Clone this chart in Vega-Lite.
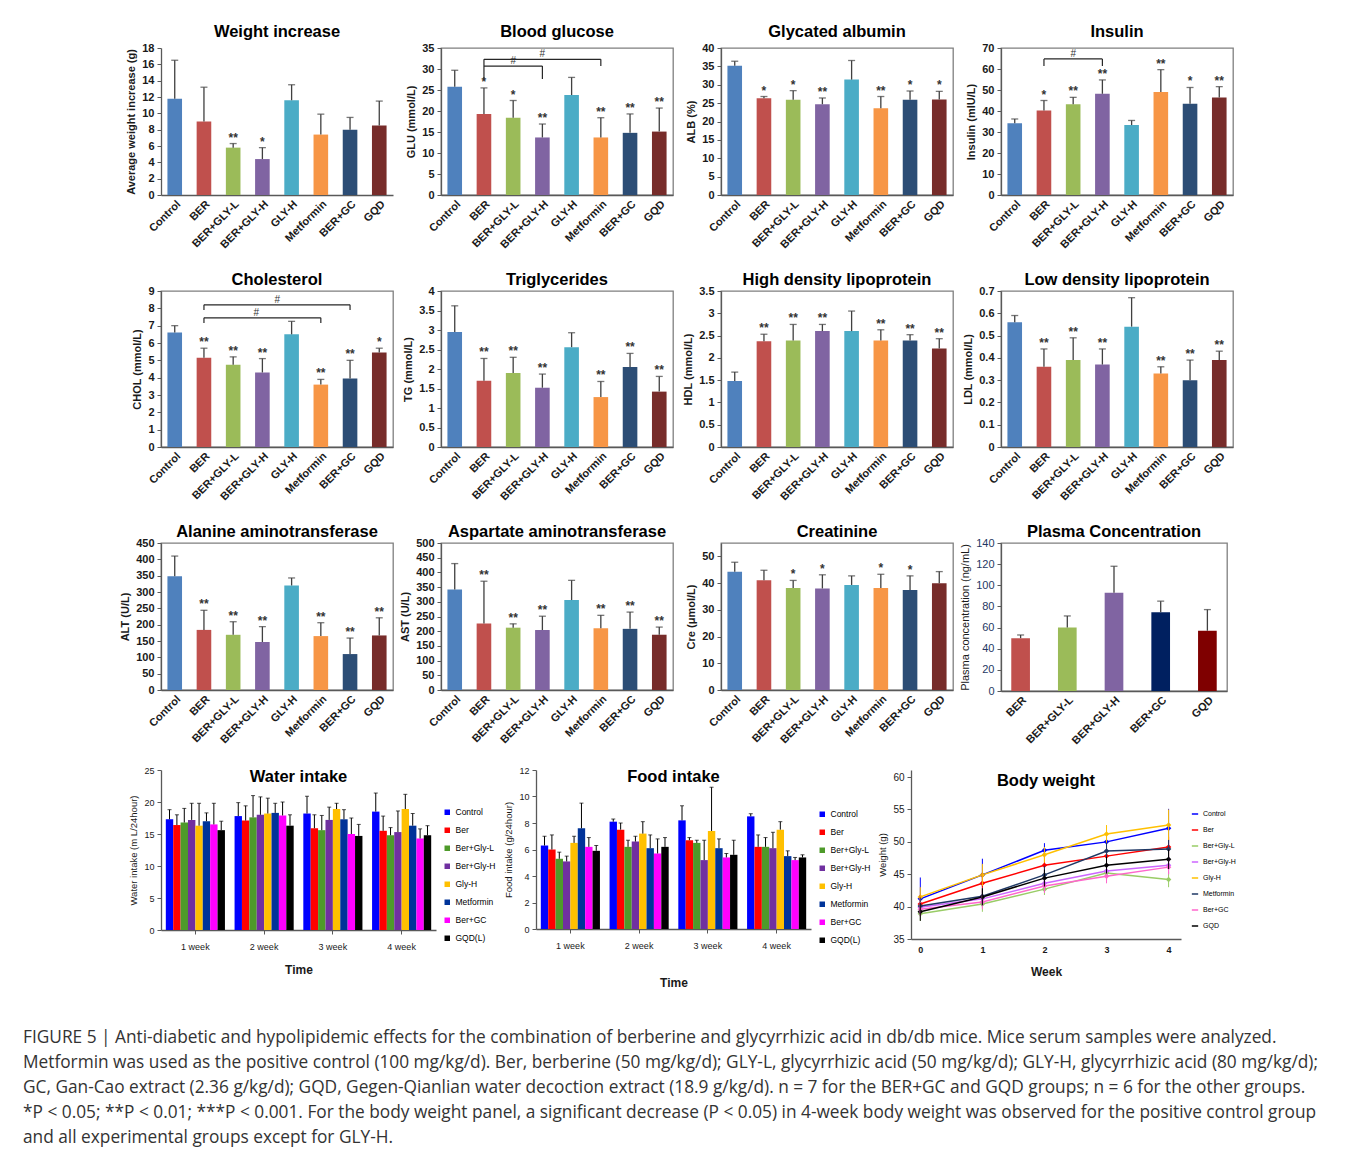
{
  "$schema": "https://vega.github.io/schema/vega-lite/v6.json",
  "background": "white",
  "padding": {"left": 22, "top": 22, "right": 0, "bottom": 0},
  "title": {
    "text": [
      "FIGURE 5 | Anti-diabetic and hypolipidemic effects for the combination of berberine and glycyrrhizic acid in db/db mice. Mice serum samples were analyzed.",
      "Metformin was used as the positive control (100 mg/kg/d). Ber, berberine (50 mg/kg/d); GLY-L, glycyrrhizic acid (50 mg/kg/d); GLY-H, glycyrrhizic acid (80 mg/kg/d);",
      "GC, Gan-Cao extract (2.36 g/kg/d); GQD, Gegen-Qianlian water decoction extract (18.9 g/kg/d). n = 7 for the BER+GC and GQD groups; n = 6 for the other groups.",
      "*P < 0.05; **P < 0.01; ***P < 0.001. For the body weight panel, a significant decrease (P < 0.05) in 4-week body weight was observed for the positive control group",
      "and all experimental groups except for GLY-H."
    ],
    "orient": "bottom", "anchor": "start", "frame": "bounds", "offset": 41, "dx": -96,
    "fontSize": 17.3, "fontWeight": "normal", "font": "Open Sans", "color": "#333333", "lineHeight": 25, "align": "left"
  },
  "datasets": {
    "wt": [
      {"group": "Control", "mean": 11.8, "upper": 16.5, "sig": ""},
      {"group": "BER", "mean": 9.0, "upper": 13.2, "sig": ""},
      {"group": "BER+GLY-L", "mean": 5.8, "upper": 6.3, "sig": "**"},
      {"group": "BER+GLY-H", "mean": 4.4, "upper": 5.8, "sig": "*"},
      {"group": "GLY-H", "mean": 11.6, "upper": 13.5, "sig": ""},
      {"group": "Metformin", "mean": 7.4, "upper": 9.9, "sig": ""},
      {"group": "BER+GC", "mean": 8.0, "upper": 9.5, "sig": ""},
      {"group": "GQD", "mean": 8.5, "upper": 11.5, "sig": ""}
    ],
    "glu": [
      {"group": "Control", "mean": 25.8, "upper": 29.7, "sig": ""},
      {"group": "BER", "mean": 19.3, "upper": 25.5, "sig": "*"},
      {"group": "BER+GLY-L", "mean": 18.4, "upper": 22.5, "sig": "*"},
      {"group": "BER+GLY-H", "mean": 13.7, "upper": 16.9, "sig": "**"},
      {"group": "GLY-H", "mean": 23.8, "upper": 28.0, "sig": ""},
      {"group": "Metformin", "mean": 13.7, "upper": 18.4, "sig": "**"},
      {"group": "BER+GC", "mean": 14.8, "upper": 19.3, "sig": "**"},
      {"group": "GQD", "mean": 15.1, "upper": 20.7, "sig": "**"}
    ],
    "glu_br": [
      {"from": "BER", "to": "BER+GLY-H", "mid": "BER+GLY-L", "level": 30.7, "dropL": 27.6, "dropR": 27.6, "label": "#"},
      {"from": "BER", "to": "Metformin", "mid": "BER+GLY-H", "level": 32.3, "dropL": 30.7, "dropR": 30.7, "label": "#"}
    ],
    "alb": [
      {"group": "Control", "mean": 35.2, "upper": 36.4, "sig": ""},
      {"group": "BER", "mean": 26.3, "upper": 26.8, "sig": "*"},
      {"group": "BER+GLY-L", "mean": 25.9, "upper": 28.4, "sig": "*"},
      {"group": "BER+GLY-H", "mean": 24.7, "upper": 26.4, "sig": "**"},
      {"group": "GLY-H", "mean": 31.4, "upper": 36.6, "sig": ""},
      {"group": "Metformin", "mean": 23.6, "upper": 26.8, "sig": "**"},
      {"group": "BER+GC", "mean": 25.9, "upper": 28.3, "sig": "*"},
      {"group": "GQD", "mean": 26.0, "upper": 28.2, "sig": "*"}
    ],
    "ins": [
      {"group": "Control", "mean": 34.2, "upper": 36.2, "sig": ""},
      {"group": "BER", "mean": 40.2, "upper": 45.0, "sig": "*"},
      {"group": "BER+GLY-L", "mean": 43.2, "upper": 46.5, "sig": "**"},
      {"group": "BER+GLY-H", "mean": 48.2, "upper": 54.8, "sig": "**"},
      {"group": "GLY-H", "mean": 33.3, "upper": 35.5, "sig": ""},
      {"group": "Metformin", "mean": 49.0, "upper": 59.7, "sig": "**"},
      {"group": "BER+GC", "mean": 43.5, "upper": 51.2, "sig": "*"},
      {"group": "GQD", "mean": 46.4, "upper": 51.6, "sig": "**"}
    ],
    "ins_br": [
      {"from": "BER", "to": "BER+GLY-H", "mid": "BER+GLY-L", "level": 64.8, "dropL": 61.4, "dropR": 61.4, "label": "#"}
    ],
    "chol": [
      {"group": "Control", "mean": 6.6, "upper": 7.0, "sig": ""},
      {"group": "BER", "mean": 5.15, "upper": 5.7, "sig": "**"},
      {"group": "BER+GLY-L", "mean": 4.75, "upper": 5.2, "sig": "**"},
      {"group": "BER+GLY-H", "mean": 4.3, "upper": 5.1, "sig": "**"},
      {"group": "GLY-H", "mean": 6.5, "upper": 7.25, "sig": ""},
      {"group": "Metformin", "mean": 3.6, "upper": 3.9, "sig": "**"},
      {"group": "BER+GC", "mean": 3.95, "upper": 5.0, "sig": "**"},
      {"group": "GQD", "mean": 5.45, "upper": 5.7, "sig": "*"}
    ],
    "chol_br": [
      {"from": "BER", "to": "BER+GC", "mid": "BER+GLY-H", "pos": "upper", "level": 8.2, "dropL": 7.9, "dropR": 7.9, "label": "#"},
      {"from": "BER", "to": "Metformin", "mid": "BER+GLY-H", "pos": "lower", "level": 7.45, "dropL": 7.15, "dropR": 7.15, "label": "#"}
    ],
    "tg": [
      {"group": "Control", "mean": 2.95, "upper": 3.62, "sig": ""},
      {"group": "BER", "mean": 1.7, "upper": 2.27, "sig": "**"},
      {"group": "BER+GLY-L", "mean": 1.9, "upper": 2.3, "sig": "**"},
      {"group": "BER+GLY-H", "mean": 1.52, "upper": 1.87, "sig": "**"},
      {"group": "GLY-H", "mean": 2.56, "upper": 2.93, "sig": ""},
      {"group": "Metformin", "mean": 1.28, "upper": 1.68, "sig": "**"},
      {"group": "BER+GC", "mean": 2.05, "upper": 2.4, "sig": "**"},
      {"group": "GQD", "mean": 1.42, "upper": 1.81, "sig": "**"}
    ],
    "hdl": [
      {"group": "Control", "mean": 1.48, "upper": 1.68, "sig": ""},
      {"group": "BER", "mean": 2.37, "upper": 2.53, "sig": "**"},
      {"group": "BER+GLY-L", "mean": 2.39, "upper": 2.75, "sig": "**"},
      {"group": "BER+GLY-H", "mean": 2.6, "upper": 2.75, "sig": "**"},
      {"group": "GLY-H", "mean": 2.6, "upper": 3.05, "sig": ""},
      {"group": "Metformin", "mean": 2.39, "upper": 2.63, "sig": "**"},
      {"group": "BER+GC", "mean": 2.39, "upper": 2.52, "sig": "**"},
      {"group": "GQD", "mean": 2.21, "upper": 2.43, "sig": "**"}
    ],
    "ldl": [
      {"group": "Control", "mean": 0.56, "upper": 0.59, "sig": ""},
      {"group": "BER", "mean": 0.36, "upper": 0.44, "sig": "**"},
      {"group": "BER+GLY-L", "mean": 0.39, "upper": 0.49, "sig": "**"},
      {"group": "BER+GLY-H", "mean": 0.37, "upper": 0.44, "sig": "**"},
      {"group": "GLY-H", "mean": 0.54, "upper": 0.67, "sig": ""},
      {"group": "Metformin", "mean": 0.33, "upper": 0.36, "sig": "**"},
      {"group": "BER+GC", "mean": 0.30, "upper": 0.39, "sig": "**"},
      {"group": "GQD", "mean": 0.39, "upper": 0.43, "sig": "**"}
    ],
    "alt": [
      {"group": "Control", "mean": 348, "upper": 410, "sig": ""},
      {"group": "BER", "mean": 184, "upper": 244, "sig": "**"},
      {"group": "BER+GLY-L", "mean": 169, "upper": 209, "sig": "**"},
      {"group": "BER+GLY-H", "mean": 147, "upper": 194, "sig": "**"},
      {"group": "GLY-H", "mean": 320, "upper": 343, "sig": ""},
      {"group": "Metformin", "mean": 165, "upper": 206, "sig": "**"},
      {"group": "BER+GC", "mean": 110, "upper": 159, "sig": "**"},
      {"group": "GQD", "mean": 167, "upper": 221, "sig": "**"}
    ],
    "ast": [
      {"group": "Control", "mean": 342, "upper": 430, "sig": ""},
      {"group": "BER", "mean": 226, "upper": 370, "sig": "**"},
      {"group": "BER+GLY-L", "mean": 212, "upper": 225, "sig": "**"},
      {"group": "BER+GLY-H", "mean": 204, "upper": 251, "sig": "**"},
      {"group": "GLY-H", "mean": 306, "upper": 373, "sig": ""},
      {"group": "Metformin", "mean": 210, "upper": 254, "sig": "**"},
      {"group": "BER+GC", "mean": 208, "upper": 265, "sig": "**"},
      {"group": "GQD", "mean": 188, "upper": 214, "sig": "**"}
    ],
    "cre": [
      {"group": "Control", "mean": 44.2, "upper": 47.8, "sig": ""},
      {"group": "BER", "mean": 41.1, "upper": 44.8, "sig": ""},
      {"group": "BER+GLY-L", "mean": 38.2, "upper": 41.0, "sig": "*"},
      {"group": "BER+GLY-H", "mean": 38.0, "upper": 43.1, "sig": "*"},
      {"group": "GLY-H", "mean": 39.3, "upper": 42.7, "sig": ""},
      {"group": "Metformin", "mean": 38.2, "upper": 43.3, "sig": "*"},
      {"group": "BER+GC", "mean": 37.4, "upper": 42.7, "sig": "*"},
      {"group": "GQD", "mean": 39.9, "upper": 44.3, "sig": ""}
    ],
    "plasma": [
      {"group": "BER", "mean": 50, "upper": 53},
      {"group": "BER+GLY-L", "mean": 60, "upper": 71},
      {"group": "BER+GLY-H", "mean": 93, "upper": 118},
      {"group": "BER+GC", "mean": 74.5, "upper": 85},
      {"group": "GQD", "mean": 57, "upper": 77}
    ],
    "water": [
      {"week": "1 week", "series": "Control", "mean": 17.3, "upper": 18.8},
      {"week": "1 week", "series": "Ber", "mean": 16.4, "upper": 18.0},
      {"week": "1 week", "series": "Ber+Gly-L", "mean": 16.8, "upper": 19.0},
      {"week": "1 week", "series": "Ber+Gly-H", "mean": 17.2, "upper": 19.8},
      {"week": "1 week", "series": "Gly-H", "mean": 16.3, "upper": 19.8},
      {"week": "1 week", "series": "Metformin", "mean": 17.0, "upper": 18.3},
      {"week": "1 week", "series": "Ber+GC", "mean": 16.5, "upper": 19.8},
      {"week": "1 week", "series": "GQD(L)", "mean": 15.6, "upper": 17.0},
      {"week": "2 week", "series": "Control", "mean": 17.8, "upper": 19.9},
      {"week": "2 week", "series": "Ber", "mean": 17.1, "upper": 19.4},
      {"week": "2 week", "series": "Ber+Gly-L", "mean": 17.6, "upper": 21.0},
      {"week": "2 week", "series": "Ber+Gly-H", "mean": 18.0, "upper": 20.8},
      {"week": "2 week", "series": "Gly-H", "mean": 18.2, "upper": 20.6},
      {"week": "2 week", "series": "Metformin", "mean": 18.3, "upper": 19.8},
      {"week": "2 week", "series": "Ber+GC", "mean": 17.9, "upper": 20.0},
      {"week": "2 week", "series": "GQD(L)", "mean": 16.3, "upper": 18.0},
      {"week": "3 week", "series": "Control", "mean": 18.2, "upper": 20.9},
      {"week": "3 week", "series": "Ber", "mean": 15.9, "upper": 18.0},
      {"week": "3 week", "series": "Ber+Gly-L", "mean": 15.6, "upper": 17.9},
      {"week": "3 week", "series": "Ber+Gly-H", "mean": 17.2, "upper": 19.2},
      {"week": "3 week", "series": "Gly-H", "mean": 18.9, "upper": 19.8},
      {"week": "3 week", "series": "Metformin", "mean": 17.3, "upper": 18.8},
      {"week": "3 week", "series": "Ber+GC", "mean": 15.0, "upper": 17.5},
      {"week": "3 week", "series": "GQD(L)", "mean": 14.7, "upper": 16.5},
      {"week": "4 week", "series": "Control", "mean": 18.5, "upper": 21.4},
      {"week": "4 week", "series": "Ber", "mean": 15.5, "upper": 17.8},
      {"week": "4 week", "series": "Ber+Gly-L", "mean": 14.8, "upper": 16.0},
      {"week": "4 week", "series": "Ber+Gly-H", "mean": 15.3, "upper": 18.6},
      {"week": "4 week", "series": "Gly-H", "mean": 18.9, "upper": 21.2},
      {"week": "4 week", "series": "Metformin", "mean": 16.3, "upper": 18.2},
      {"week": "4 week", "series": "Ber+GC", "mean": 14.3, "upper": 15.8},
      {"week": "4 week", "series": "GQD(L)", "mean": 14.8, "upper": 16.3}
    ],
    "food": [
      {"week": "1 week", "series": "Control", "mean": 6.3, "upper": 7.0},
      {"week": "1 week", "series": "Ber", "mean": 6.0, "upper": 7.1},
      {"week": "1 week", "series": "Ber+Gly-L", "mean": 5.3, "upper": 5.8},
      {"week": "1 week", "series": "Ber+Gly-H", "mean": 5.1, "upper": 5.5},
      {"week": "1 week", "series": "Gly-H", "mean": 6.5, "upper": 7.0},
      {"week": "1 week", "series": "Metformin", "mean": 7.6, "upper": 9.5},
      {"week": "1 week", "series": "Ber+GC", "mean": 6.2, "upper": 6.9},
      {"week": "1 week", "series": "GQD(L)", "mean": 5.9, "upper": 6.3},
      {"week": "2 week", "series": "Control", "mean": 8.1, "upper": 8.3},
      {"week": "2 week", "series": "Ber", "mean": 7.5, "upper": 8.0},
      {"week": "2 week", "series": "Ber+Gly-L", "mean": 6.2, "upper": 6.7},
      {"week": "2 week", "series": "Ber+Gly-H", "mean": 6.6, "upper": 7.0},
      {"week": "2 week", "series": "Gly-H", "mean": 7.2, "upper": 8.1},
      {"week": "2 week", "series": "Metformin", "mean": 6.1, "upper": 7.1},
      {"week": "2 week", "series": "Ber+GC", "mean": 5.7, "upper": 6.8},
      {"week": "2 week", "series": "GQD(L)", "mean": 6.2, "upper": 6.9},
      {"week": "3 week", "series": "Control", "mean": 8.2, "upper": 9.3},
      {"week": "3 week", "series": "Ber", "mean": 6.7, "upper": 6.9},
      {"week": "3 week", "series": "Ber+Gly-L", "mean": 6.5, "upper": 6.7},
      {"week": "3 week", "series": "Ber+Gly-H", "mean": 5.2, "upper": 6.7},
      {"week": "3 week", "series": "Gly-H", "mean": 7.4, "upper": 10.7},
      {"week": "3 week", "series": "Metformin", "mean": 6.1, "upper": 6.8},
      {"week": "3 week", "series": "Ber+GC", "mean": 5.4, "upper": 5.7},
      {"week": "3 week", "series": "GQD(L)", "mean": 5.6, "upper": 6.7},
      {"week": "4 week", "series": "Control", "mean": 8.5, "upper": 8.7},
      {"week": "4 week", "series": "Ber", "mean": 6.2, "upper": 7.1},
      {"week": "4 week", "series": "Ber+Gly-L", "mean": 6.2, "upper": 6.9},
      {"week": "4 week", "series": "Ber+Gly-H", "mean": 6.1, "upper": 7.3},
      {"week": "4 week", "series": "Gly-H", "mean": 7.5, "upper": 8.1},
      {"week": "4 week", "series": "Metformin", "mean": 5.5, "upper": 5.9},
      {"week": "4 week", "series": "Ber+GC", "mean": 5.2, "upper": 5.4},
      {"week": "4 week", "series": "GQD(L)", "mean": 5.4, "upper": 5.6}
    ],
    "body": [
      {"series": "Control", "week": 0, "mean": 41.2, "lo": 39.8, "hi": 44.5},
      {"series": "Control", "week": 1, "mean": 44.9, "lo": 43.0, "hi": 47.4},
      {"series": "Control", "week": 2, "mean": 48.7, "lo": 47.6, "hi": 49.8},
      {"series": "Control", "week": 3, "mean": 50.0, "lo": 48.5, "hi": 51.5},
      {"series": "Control", "week": 4, "mean": 52.1, "lo": 49.3, "hi": 55.1},
      {"series": "Ber", "week": 0, "mean": 40.4, "lo": 39.0, "hi": 41.8},
      {"series": "Ber", "week": 1, "mean": 43.6, "lo": 42.0, "hi": 45.2},
      {"series": "Ber", "week": 2, "mean": 46.4, "lo": 45.0, "hi": 47.8},
      {"series": "Ber", "week": 3, "mean": 47.8, "lo": 46.3, "hi": 49.3},
      {"series": "Ber", "week": 4, "mean": 49.2, "lo": 47.6, "hi": 50.8},
      {"series": "Ber+Gly-L", "week": 0, "mean": 38.9, "lo": 37.8, "hi": 40.0},
      {"series": "Ber+Gly-L", "week": 1, "mean": 40.4, "lo": 39.2, "hi": 41.6},
      {"series": "Ber+Gly-L", "week": 2, "mean": 42.7, "lo": 41.8, "hi": 43.6},
      {"series": "Ber+Gly-L", "week": 3, "mean": 45.2, "lo": 44.2, "hi": 46.2},
      {"series": "Ber+Gly-L", "week": 4, "mean": 44.2, "lo": 43.0, "hi": 45.4},
      {"series": "Ber+Gly-H", "week": 0, "mean": 39.9, "lo": 38.5, "hi": 41.3},
      {"series": "Ber+Gly-H", "week": 1, "mean": 41.2, "lo": 40.0, "hi": 42.4},
      {"series": "Ber+Gly-H", "week": 2, "mean": 43.6, "lo": 42.4, "hi": 44.8},
      {"series": "Ber+Gly-H", "week": 3, "mean": 45.5, "lo": 44.3, "hi": 46.7},
      {"series": "Ber+Gly-H", "week": 4, "mean": 46.4, "lo": 45.0, "hi": 47.8},
      {"series": "Gly-H", "week": 0, "mean": 41.5, "lo": 40.0, "hi": 43.0},
      {"series": "Gly-H", "week": 1, "mean": 44.9, "lo": 43.2, "hi": 46.6},
      {"series": "Gly-H", "week": 2, "mean": 48.0, "lo": 46.8, "hi": 49.2},
      {"series": "Gly-H", "week": 3, "mean": 51.2, "lo": 49.8, "hi": 52.6},
      {"series": "Gly-H", "week": 4, "mean": 52.6, "lo": 50.2, "hi": 55.0},
      {"series": "Metformin", "week": 0, "mean": 40.1, "lo": 38.8, "hi": 41.4},
      {"series": "Metformin", "week": 1, "mean": 41.6, "lo": 40.3, "hi": 42.9},
      {"series": "Metformin", "week": 2, "mean": 44.9, "lo": 43.5, "hi": 46.3},
      {"series": "Metformin", "week": 3, "mean": 48.6, "lo": 47.3, "hi": 49.9},
      {"series": "Metformin", "week": 4, "mean": 48.9, "lo": 47.5, "hi": 50.3},
      {"series": "Ber+GC", "week": 0, "mean": 39.6, "lo": 38.5, "hi": 40.7},
      {"series": "Ber+GC", "week": 1, "mean": 40.7, "lo": 39.6, "hi": 41.8},
      {"series": "Ber+GC", "week": 2, "mean": 43.2, "lo": 42.1, "hi": 44.3},
      {"series": "Ber+GC", "week": 3, "mean": 44.7, "lo": 43.6, "hi": 45.8},
      {"series": "Ber+GC", "week": 4, "mean": 46.1, "lo": 45.0, "hi": 47.2},
      {"series": "GQD", "week": 0, "mean": 39.2, "lo": 37.8, "hi": 40.6},
      {"series": "GQD", "week": 1, "mean": 41.5, "lo": 40.2, "hi": 42.8},
      {"series": "GQD", "week": 2, "mean": 44.4, "lo": 43.1, "hi": 45.7},
      {"series": "GQD", "week": 3, "mean": 46.4, "lo": 45.1, "hi": 47.7},
      {"series": "GQD", "week": 4, "mean": 47.3, "lo": 45.8, "hi": 48.8}
    ]
  },
  "spacing": 19,
  "resolve": {"scale": {"color": "independent", "x": "independent", "y": "independent"}, "legend": {"color": "independent"}},
  "vconcat": [
    {
      "bounds": "flush", "spacing": 48,
      "resolve": {"scale": {"color": "independent", "x": "independent", "y": "independent"}, "legend": {"color": "independent"}},
      "hconcat": [
        {
          "title": {"text": "Weight increase", "offset": 2}, "width": 232, "height": 147, "view": {"stroke": null},
          "data": {"name": "wt"},
          "layer": [
            {"mark": {"type": "bar"}, "encoding": {
              "x": {"field": "group", "type": "nominal", "title": null, "scale": {"domain": ["Control","BER","BER+GLY-L","BER+GLY-H","GLY-H","Metformin","BER+GC","GQD"], "paddingInner": 0.5, "paddingOuter": 0.22}},
              "y": {"field": "mean", "type": "quantitative", "title": "Average weight increase (g)", "scale": {"domain": [0, 18], "nice": false}, "axis": {"values": [0,2,4,6,8,10,12,14,16,18], "tickCount": 30, "format": "~f"}},
              "color": {"field": "group", "type": "nominal", "scale": {"domain": ["Control","BER","BER+GLY-L","BER+GLY-H","GLY-H","Metformin","BER+GC","GQD"], "range": ["#4F81BD","#C0504D","#9BBB59","#8064A2","#4BACC6","#F79646","#2C4D75","#772C2A"]}, "legend": null}}},
            {"mark": {"type": "rule", "color": "#404040", "strokeWidth": 1.3}, "encoding": {"x": {"field": "group", "type": "nominal"}, "y": {"field": "mean", "type": "quantitative"}, "y2": {"field": "upper"}}},
            {"mark": {"type": "tick", "color": "#404040", "size": 7, "thickness": 1.3}, "encoding": {"x": {"field": "group", "type": "nominal"}, "y": {"field": "upper", "type": "quantitative"}}},
            {"mark": {"type": "text", "baseline": "alphabetic", "dy": -2, "fontSize": 12, "fontWeight": "bold", "color": "#333333"}, "encoding": {"x": {"field": "group", "type": "nominal"}, "y": {"field": "upper", "type": "quantitative"}, "text": {"field": "sig"}}}
          ]
        },
        {
          "title": {"text": "Blood glucose", "offset": 2}, "width": 232, "height": 147,
          "data": {"name": "glu"},
          "layer": [
            {"mark": {"type": "bar"}, "encoding": {
              "x": {"field": "group", "type": "nominal", "title": null, "scale": {"domain": ["Control","BER","BER+GLY-L","BER+GLY-H","GLY-H","Metformin","BER+GC","GQD"], "paddingInner": 0.5, "paddingOuter": 0.22}},
              "y": {"field": "mean", "type": "quantitative", "title": "GLU (mmol/L)", "scale": {"domain": [0, 35], "nice": false}, "axis": {"values": [0,5,10,15,20,25,30,35], "tickCount": 30, "format": "~f"}},
              "color": {"field": "group", "type": "nominal", "scale": {"domain": ["Control","BER","BER+GLY-L","BER+GLY-H","GLY-H","Metformin","BER+GC","GQD"], "range": ["#4F81BD","#C0504D","#9BBB59","#8064A2","#4BACC6","#F79646","#2C4D75","#772C2A"]}, "legend": null}}},
            {"mark": {"type": "rule", "color": "#404040", "strokeWidth": 1.3}, "encoding": {"x": {"field": "group", "type": "nominal"}, "y": {"field": "mean", "type": "quantitative"}, "y2": {"field": "upper"}}},
            {"mark": {"type": "tick", "color": "#404040", "size": 7, "thickness": 1.3}, "encoding": {"x": {"field": "group", "type": "nominal"}, "y": {"field": "upper", "type": "quantitative"}}},
            {"mark": {"type": "text", "baseline": "alphabetic", "dy": -2, "fontSize": 12, "fontWeight": "bold", "color": "#333333"}, "encoding": {"x": {"field": "group", "type": "nominal"}, "y": {"field": "upper", "type": "quantitative"}, "text": {"field": "sig"}}},
            {"data": {"name": "glu_br"}, "mark": {"type": "rule", "color": "#262626", "strokeWidth": 1.2}, "encoding": {"x": {"field": "from", "type": "nominal"}, "x2": {"field": "to"}, "y": {"field": "level", "type": "quantitative"}}},
            {"data": {"name": "glu_br"}, "mark": {"type": "rule", "color": "#262626", "strokeWidth": 1.2}, "encoding": {"x": {"field": "from", "type": "nominal"}, "y": {"field": "level", "type": "quantitative"}, "y2": {"field": "dropL"}}},
            {"data": {"name": "glu_br"}, "mark": {"type": "rule", "color": "#262626", "strokeWidth": 1.2}, "encoding": {"x": {"field": "to", "type": "nominal"}, "y": {"field": "level", "type": "quantitative"}, "y2": {"field": "dropR"}}},
            {"data": {"name": "glu_br"}, "mark": {"type": "text", "baseline": "alphabetic", "dy": -2, "fontSize": 10, "color": "#333333"}, "encoding": {"x": {"field": "mid", "type": "nominal"}, "y": {"field": "level", "type": "quantitative"}, "text": {"field": "label"}}}
          ]
        },
        {
          "title": {"text": "Glycated albumin", "offset": 2}, "width": 232, "height": 147,
          "data": {"name": "alb"},
          "layer": [
            {"mark": {"type": "bar"}, "encoding": {
              "x": {"field": "group", "type": "nominal", "title": null, "scale": {"domain": ["Control","BER","BER+GLY-L","BER+GLY-H","GLY-H","Metformin","BER+GC","GQD"], "paddingInner": 0.5, "paddingOuter": 0.22}},
              "y": {"field": "mean", "type": "quantitative", "title": "ALB (%)", "scale": {"domain": [0, 40], "nice": false}, "axis": {"values": [0,5,10,15,20,25,30,35,40], "tickCount": 30, "format": "~f"}},
              "color": {"field": "group", "type": "nominal", "scale": {"domain": ["Control","BER","BER+GLY-L","BER+GLY-H","GLY-H","Metformin","BER+GC","GQD"], "range": ["#4F81BD","#C0504D","#9BBB59","#8064A2","#4BACC6","#F79646","#2C4D75","#772C2A"]}, "legend": null}}},
            {"mark": {"type": "rule", "color": "#404040", "strokeWidth": 1.3}, "encoding": {"x": {"field": "group", "type": "nominal"}, "y": {"field": "mean", "type": "quantitative"}, "y2": {"field": "upper"}}},
            {"mark": {"type": "tick", "color": "#404040", "size": 7, "thickness": 1.3}, "encoding": {"x": {"field": "group", "type": "nominal"}, "y": {"field": "upper", "type": "quantitative"}}},
            {"mark": {"type": "text", "baseline": "alphabetic", "dy": -2, "fontSize": 12, "fontWeight": "bold", "color": "#333333"}, "encoding": {"x": {"field": "group", "type": "nominal"}, "y": {"field": "upper", "type": "quantitative"}, "text": {"field": "sig"}}}
          ]
        },
        {
          "title": {"text": "Insulin", "offset": 2}, "width": 232, "height": 147,
          "data": {"name": "ins"},
          "layer": [
            {"mark": {"type": "bar"}, "encoding": {
              "x": {"field": "group", "type": "nominal", "title": null, "scale": {"domain": ["Control","BER","BER+GLY-L","BER+GLY-H","GLY-H","Metformin","BER+GC","GQD"], "paddingInner": 0.5, "paddingOuter": 0.22}},
              "y": {"field": "mean", "type": "quantitative", "title": "Insulin (mIU/L)", "scale": {"domain": [0, 70], "nice": false}, "axis": {"values": [0,10,20,30,40,50,60,70], "tickCount": 30, "format": "~f"}},
              "color": {"field": "group", "type": "nominal", "scale": {"domain": ["Control","BER","BER+GLY-L","BER+GLY-H","GLY-H","Metformin","BER+GC","GQD"], "range": ["#4F81BD","#C0504D","#9BBB59","#8064A2","#4BACC6","#F79646","#2C4D75","#772C2A"]}, "legend": null}}},
            {"mark": {"type": "rule", "color": "#404040", "strokeWidth": 1.3}, "encoding": {"x": {"field": "group", "type": "nominal"}, "y": {"field": "mean", "type": "quantitative"}, "y2": {"field": "upper"}}},
            {"mark": {"type": "tick", "color": "#404040", "size": 7, "thickness": 1.3}, "encoding": {"x": {"field": "group", "type": "nominal"}, "y": {"field": "upper", "type": "quantitative"}}},
            {"mark": {"type": "text", "baseline": "alphabetic", "dy": -2, "fontSize": 12, "fontWeight": "bold", "color": "#333333"}, "encoding": {"x": {"field": "group", "type": "nominal"}, "y": {"field": "upper", "type": "quantitative"}, "text": {"field": "sig"}}},
            {"data": {"name": "ins_br"}, "mark": {"type": "rule", "color": "#262626", "strokeWidth": 1.2}, "encoding": {"x": {"field": "from", "type": "nominal"}, "x2": {"field": "to"}, "y": {"field": "level", "type": "quantitative"}}},
            {"data": {"name": "ins_br"}, "mark": {"type": "rule", "color": "#262626", "strokeWidth": 1.2}, "encoding": {"x": {"field": "from", "type": "nominal"}, "y": {"field": "level", "type": "quantitative"}, "y2": {"field": "dropL"}}},
            {"data": {"name": "ins_br"}, "mark": {"type": "rule", "color": "#262626", "strokeWidth": 1.2}, "encoding": {"x": {"field": "to", "type": "nominal"}, "y": {"field": "level", "type": "quantitative"}, "y2": {"field": "dropR"}}},
            {"data": {"name": "ins_br"}, "mark": {"type": "text", "baseline": "alphabetic", "dy": -2, "fontSize": 10, "color": "#333333"}, "encoding": {"x": {"field": "mid", "type": "nominal"}, "y": {"field": "level", "type": "quantitative"}, "text": {"field": "label"}}}
          ]
        }
      ]
    },
    {
      "bounds": "flush", "spacing": 48,
      "resolve": {"scale": {"color": "independent", "x": "independent", "y": "independent"}, "legend": {"color": "independent"}},
      "hconcat": [
        {
          "title": {"text": "Cholesterol", "offset": -3}, "width": 232, "height": 156,
          "data": {"name": "chol"},
          "layer": [
            {"mark": {"type": "bar"}, "encoding": {
              "x": {"field": "group", "type": "nominal", "title": null, "scale": {"domain": ["Control","BER","BER+GLY-L","BER+GLY-H","GLY-H","Metformin","BER+GC","GQD"], "paddingInner": 0.5, "paddingOuter": 0.22}},
              "y": {"field": "mean", "type": "quantitative", "title": "CHOL (mmol/L)", "scale": {"domain": [0, 9], "nice": false}, "axis": {"values": [0,1,2,3,4,5,6,7,8,9], "tickCount": 30, "format": "~f"}},
              "color": {"field": "group", "type": "nominal", "scale": {"domain": ["Control","BER","BER+GLY-L","BER+GLY-H","GLY-H","Metformin","BER+GC","GQD"], "range": ["#4F81BD","#C0504D","#9BBB59","#8064A2","#4BACC6","#F79646","#2C4D75","#772C2A"]}, "legend": null}}},
            {"mark": {"type": "rule", "color": "#404040", "strokeWidth": 1.3}, "encoding": {"x": {"field": "group", "type": "nominal"}, "y": {"field": "mean", "type": "quantitative"}, "y2": {"field": "upper"}}},
            {"mark": {"type": "tick", "color": "#404040", "size": 7, "thickness": 1.3}, "encoding": {"x": {"field": "group", "type": "nominal"}, "y": {"field": "upper", "type": "quantitative"}}},
            {"mark": {"type": "text", "baseline": "alphabetic", "dy": -2, "fontSize": 12, "fontWeight": "bold", "color": "#333333"}, "encoding": {"x": {"field": "group", "type": "nominal"}, "y": {"field": "upper", "type": "quantitative"}, "text": {"field": "sig"}}},
            {"data": {"name": "chol_br"}, "mark": {"type": "rule", "color": "#262626", "strokeWidth": 1.2}, "encoding": {"x": {"field": "from", "type": "nominal"}, "x2": {"field": "to"}, "y": {"field": "level", "type": "quantitative"}}},
            {"data": {"name": "chol_br"}, "mark": {"type": "rule", "color": "#262626", "strokeWidth": 1.2}, "encoding": {"x": {"field": "from", "type": "nominal"}, "y": {"field": "level", "type": "quantitative"}, "y2": {"field": "dropL"}}},
            {"data": {"name": "chol_br"}, "mark": {"type": "rule", "color": "#262626", "strokeWidth": 1.2}, "encoding": {"x": {"field": "to", "type": "nominal"}, "y": {"field": "level", "type": "quantitative"}, "y2": {"field": "dropR"}}},
            {"data": {"name": "chol_br"}, "transform": [{"filter": "datum.pos == 'lower'"}], "mark": {"type": "text", "baseline": "alphabetic", "dy": -2, "dx": -6, "fontSize": 10, "color": "#333333"}, "encoding": {"x": {"field": "mid", "type": "nominal"}, "y": {"field": "level", "type": "quantitative"}, "text": {"field": "label"}}},
            {"data": {"name": "chol_br"}, "transform": [{"filter": "datum.pos == 'upper'"}], "mark": {"type": "text", "baseline": "alphabetic", "dy": -2, "dx": 15, "fontSize": 10, "color": "#333333"}, "encoding": {"x": {"field": "mid", "type": "nominal"}, "y": {"field": "level", "type": "quantitative"}, "text": {"field": "label"}}}
          ]
        },
        {
          "title": {"text": "Triglycerides", "offset": -3}, "width": 232, "height": 156,
          "data": {"name": "tg"},
          "layer": [
            {"mark": {"type": "bar"}, "encoding": {
              "x": {"field": "group", "type": "nominal", "title": null, "scale": {"domain": ["Control","BER","BER+GLY-L","BER+GLY-H","GLY-H","Metformin","BER+GC","GQD"], "paddingInner": 0.5, "paddingOuter": 0.22}},
              "y": {"field": "mean", "type": "quantitative", "title": "TG (mmol/L)", "scale": {"domain": [0, 4], "nice": false}, "axis": {"values": [0,0.5,1,1.5,2,2.5,3,3.5,4], "tickCount": 30, "format": "~f"}},
              "color": {"field": "group", "type": "nominal", "scale": {"domain": ["Control","BER","BER+GLY-L","BER+GLY-H","GLY-H","Metformin","BER+GC","GQD"], "range": ["#4F81BD","#C0504D","#9BBB59","#8064A2","#4BACC6","#F79646","#2C4D75","#772C2A"]}, "legend": null}}},
            {"mark": {"type": "rule", "color": "#404040", "strokeWidth": 1.3}, "encoding": {"x": {"field": "group", "type": "nominal"}, "y": {"field": "mean", "type": "quantitative"}, "y2": {"field": "upper"}}},
            {"mark": {"type": "tick", "color": "#404040", "size": 7, "thickness": 1.3}, "encoding": {"x": {"field": "group", "type": "nominal"}, "y": {"field": "upper", "type": "quantitative"}}},
            {"mark": {"type": "text", "baseline": "alphabetic", "dy": -2, "fontSize": 12, "fontWeight": "bold", "color": "#333333"}, "encoding": {"x": {"field": "group", "type": "nominal"}, "y": {"field": "upper", "type": "quantitative"}, "text": {"field": "sig"}}}
          ]
        },
        {
          "title": {"text": "High density lipoprotein", "offset": -3}, "width": 232, "height": 156,
          "data": {"name": "hdl"},
          "layer": [
            {"mark": {"type": "bar"}, "encoding": {
              "x": {"field": "group", "type": "nominal", "title": null, "scale": {"domain": ["Control","BER","BER+GLY-L","BER+GLY-H","GLY-H","Metformin","BER+GC","GQD"], "paddingInner": 0.5, "paddingOuter": 0.22}},
              "y": {"field": "mean", "type": "quantitative", "title": "HDL (mmol/L)", "scale": {"domain": [0, 3.5], "nice": false}, "axis": {"values": [0,0.5,1,1.5,2,2.5,3,3.5], "tickCount": 30, "format": "~f"}},
              "color": {"field": "group", "type": "nominal", "scale": {"domain": ["Control","BER","BER+GLY-L","BER+GLY-H","GLY-H","Metformin","BER+GC","GQD"], "range": ["#4F81BD","#C0504D","#9BBB59","#8064A2","#4BACC6","#F79646","#2C4D75","#772C2A"]}, "legend": null}}},
            {"mark": {"type": "rule", "color": "#404040", "strokeWidth": 1.3}, "encoding": {"x": {"field": "group", "type": "nominal"}, "y": {"field": "mean", "type": "quantitative"}, "y2": {"field": "upper"}}},
            {"mark": {"type": "tick", "color": "#404040", "size": 7, "thickness": 1.3}, "encoding": {"x": {"field": "group", "type": "nominal"}, "y": {"field": "upper", "type": "quantitative"}}},
            {"mark": {"type": "text", "baseline": "alphabetic", "dy": -2, "fontSize": 12, "fontWeight": "bold", "color": "#333333"}, "encoding": {"x": {"field": "group", "type": "nominal"}, "y": {"field": "upper", "type": "quantitative"}, "text": {"field": "sig"}}}
          ]
        },
        {
          "title": {"text": "Low density lipoprotein", "offset": -3}, "width": 232, "height": 156,
          "data": {"name": "ldl"},
          "layer": [
            {"mark": {"type": "bar"}, "encoding": {
              "x": {"field": "group", "type": "nominal", "title": null, "scale": {"domain": ["Control","BER","BER+GLY-L","BER+GLY-H","GLY-H","Metformin","BER+GC","GQD"], "paddingInner": 0.5, "paddingOuter": 0.22}},
              "y": {"field": "mean", "type": "quantitative", "title": "LDL (mmol/L)", "scale": {"domain": [0, 0.7], "nice": false}, "axis": {"values": [0,0.1,0.2,0.3,0.4,0.5,0.6,0.7], "tickCount": 30, "format": "~f"}},
              "color": {"field": "group", "type": "nominal", "scale": {"domain": ["Control","BER","BER+GLY-L","BER+GLY-H","GLY-H","Metformin","BER+GC","GQD"], "range": ["#4F81BD","#C0504D","#9BBB59","#8064A2","#4BACC6","#F79646","#2C4D75","#772C2A"]}, "legend": null}}},
            {"mark": {"type": "rule", "color": "#404040", "strokeWidth": 1.3}, "encoding": {"x": {"field": "group", "type": "nominal"}, "y": {"field": "mean", "type": "quantitative"}, "y2": {"field": "upper"}}},
            {"mark": {"type": "tick", "color": "#404040", "size": 7, "thickness": 1.3}, "encoding": {"x": {"field": "group", "type": "nominal"}, "y": {"field": "upper", "type": "quantitative"}}},
            {"mark": {"type": "text", "baseline": "alphabetic", "dy": -2, "fontSize": 12, "fontWeight": "bold", "color": "#333333"}, "encoding": {"x": {"field": "group", "type": "nominal"}, "y": {"field": "upper", "type": "quantitative"}, "text": {"field": "sig"}}}
          ]
        }
      ]
    },
    {
      "bounds": "flush", "spacing": 48,
      "resolve": {"scale": {"color": "independent", "x": "independent", "y": "independent"}, "legend": {"color": "independent"}},
      "hconcat": [
        {
          "title": {"text": "Alanine aminotransferase", "offset": -3}, "width": 232, "height": 147,
          "data": {"name": "alt"},
          "layer": [
            {"mark": {"type": "bar"}, "encoding": {
              "x": {"field": "group", "type": "nominal", "title": null, "scale": {"domain": ["Control","BER","BER+GLY-L","BER+GLY-H","GLY-H","Metformin","BER+GC","GQD"], "paddingInner": 0.5, "paddingOuter": 0.22}},
              "y": {"field": "mean", "type": "quantitative", "title": "ALT (U/L)", "scale": {"domain": [0, 450], "nice": false}, "axis": {"values": [0,50,100,150,200,250,300,350,400,450], "tickCount": 30, "format": "~f"}},
              "color": {"field": "group", "type": "nominal", "scale": {"domain": ["Control","BER","BER+GLY-L","BER+GLY-H","GLY-H","Metformin","BER+GC","GQD"], "range": ["#4F81BD","#C0504D","#9BBB59","#8064A2","#4BACC6","#F79646","#2C4D75","#772C2A"]}, "legend": null}}},
            {"mark": {"type": "rule", "color": "#404040", "strokeWidth": 1.3}, "encoding": {"x": {"field": "group", "type": "nominal"}, "y": {"field": "mean", "type": "quantitative"}, "y2": {"field": "upper"}}},
            {"mark": {"type": "tick", "color": "#404040", "size": 7, "thickness": 1.3}, "encoding": {"x": {"field": "group", "type": "nominal"}, "y": {"field": "upper", "type": "quantitative"}}},
            {"mark": {"type": "text", "baseline": "alphabetic", "dy": -2, "fontSize": 12, "fontWeight": "bold", "color": "#333333"}, "encoding": {"x": {"field": "group", "type": "nominal"}, "y": {"field": "upper", "type": "quantitative"}, "text": {"field": "sig"}}}
          ]
        },
        {
          "title": {"text": "Aspartate aminotransferase", "offset": -3}, "width": 232, "height": 147,
          "data": {"name": "ast"},
          "layer": [
            {"mark": {"type": "bar"}, "encoding": {
              "x": {"field": "group", "type": "nominal", "title": null, "scale": {"domain": ["Control","BER","BER+GLY-L","BER+GLY-H","GLY-H","Metformin","BER+GC","GQD"], "paddingInner": 0.5, "paddingOuter": 0.22}},
              "y": {"field": "mean", "type": "quantitative", "title": "AST (U/L)", "scale": {"domain": [0, 500], "nice": false}, "axis": {"values": [0,50,100,150,200,250,300,350,400,450,500], "tickCount": 30, "format": "~f"}},
              "color": {"field": "group", "type": "nominal", "scale": {"domain": ["Control","BER","BER+GLY-L","BER+GLY-H","GLY-H","Metformin","BER+GC","GQD"], "range": ["#4F81BD","#C0504D","#9BBB59","#8064A2","#4BACC6","#F79646","#2C4D75","#772C2A"]}, "legend": null}}},
            {"mark": {"type": "rule", "color": "#404040", "strokeWidth": 1.3}, "encoding": {"x": {"field": "group", "type": "nominal"}, "y": {"field": "mean", "type": "quantitative"}, "y2": {"field": "upper"}}},
            {"mark": {"type": "tick", "color": "#404040", "size": 7, "thickness": 1.3}, "encoding": {"x": {"field": "group", "type": "nominal"}, "y": {"field": "upper", "type": "quantitative"}}},
            {"mark": {"type": "text", "baseline": "alphabetic", "dy": -2, "fontSize": 12, "fontWeight": "bold", "color": "#333333"}, "encoding": {"x": {"field": "group", "type": "nominal"}, "y": {"field": "upper", "type": "quantitative"}, "text": {"field": "sig"}}}
          ]
        },
        {
          "title": {"text": "Creatinine", "offset": -3, "dy": -6}, "width": 232, "height": 147,
          "data": {"name": "cre"},
          "layer": [
            {"mark": {"type": "bar"}, "encoding": {
              "x": {"field": "group", "type": "nominal", "title": null, "scale": {"domain": ["Control","BER","BER+GLY-L","BER+GLY-H","GLY-H","Metformin","BER+GC","GQD"], "paddingInner": 0.5, "paddingOuter": 0.22}},
              "y": {"field": "mean", "type": "quantitative", "title": "Cre (μmol/L)", "scale": {"domain": [0, 55], "nice": false}, "axis": {"values": [0,10,20,30,40,50], "tickCount": 30, "format": "~f"}},
              "color": {"field": "group", "type": "nominal", "scale": {"domain": ["Control","BER","BER+GLY-L","BER+GLY-H","GLY-H","Metformin","BER+GC","GQD"], "range": ["#4F81BD","#C0504D","#9BBB59","#8064A2","#4BACC6","#F79646","#2C4D75","#772C2A"]}, "legend": null}}},
            {"mark": {"type": "rule", "color": "#404040", "strokeWidth": 1.3}, "encoding": {"x": {"field": "group", "type": "nominal"}, "y": {"field": "mean", "type": "quantitative"}, "y2": {"field": "upper"}}},
            {"mark": {"type": "tick", "color": "#404040", "size": 7, "thickness": 1.3}, "encoding": {"x": {"field": "group", "type": "nominal"}, "y": {"field": "upper", "type": "quantitative"}}},
            {"mark": {"type": "text", "baseline": "alphabetic", "dy": -2, "fontSize": 12, "fontWeight": "bold", "color": "#333333"}, "encoding": {"x": {"field": "group", "type": "nominal"}, "y": {"field": "upper", "type": "quantitative"}, "text": {"field": "sig"}}}
          ]
        },
        {
          "title": {"text": "Plasma Concentration", "offset": -3}, "width": 226, "height": 148,
          "data": {"name": "plasma"},
          "layer": [
            {"mark": {"type": "bar"}, "encoding": {
              "x": {"field": "group", "type": "nominal", "title": null, "scale": {"domain": ["BER","BER+GLY-L","BER+GLY-H","BER+GC","GQD"], "paddingInner": 0.6, "paddingOuter": 0.22}},
              "y": {"field": "mean", "type": "quantitative", "title": "Plasma concentration (ng/mL)", "scale": {"domain": [0, 140], "nice": false}, "axis": {"values": [0,20,40,60,80,100,120,140], "tickCount": 30, "format": "~f", "labelFontWeight": "normal", "labelColor": "#1F3864", "titleFontWeight": "normal"}},
              "color": {"field": "group", "type": "nominal", "scale": {"domain": ["BER","BER+GLY-L","BER+GLY-H","BER+GC","GQD"], "range": ["#C0504D","#9BBB59","#8064A2","#002060","#7F0000"]}, "legend": null}}},
            {"mark": {"type": "rule", "color": "#404040", "strokeWidth": 1.3}, "encoding": {"x": {"field": "group", "type": "nominal"}, "y": {"field": "mean", "type": "quantitative"}, "y2": {"field": "upper"}}},
            {"mark": {"type": "tick", "color": "#404040", "size": 7, "thickness": 1.3}, "encoding": {"x": {"field": "group", "type": "nominal"}, "y": {"field": "upper", "type": "quantitative"}}}
          ]
        }
      ]
    },
    {
      "bounds": "flush", "spacing": 100,
      "resolve": {"scale": {"color": "independent", "x": "independent", "y": "independent", "xOffset": "independent"}, "legend": {"color": "independent"}},
      "hconcat": [
        {
          "title": {"text": "Water intake", "offset": -19}, "width": 275, "height": 160, "view": {"stroke": null},
          "data": {"name": "water"},
          "layer": [
            {"mark": {"type": "bar"}, "encoding": {
              "x": {"field": "week", "type": "nominal", "title": "Time", "scale": {"paddingInner": 0.14, "paddingOuter": 0.07}, "axis": {"labelAngle": 0, "labelFontWeight": "normal", "labelFontSize": 9, "labelPadding": 8, "titleFontSize": 12, "titlePadding": 13, "ticks": true, "tickSize": 4}},
              "xOffset": {"field": "series", "type": "nominal", "scale": {"domain": ["Control","Ber","Ber+Gly-L","Ber+Gly-H","Gly-H","Metformin","Ber+GC","GQD(L)"]}},
              "y": {"field": "mean", "type": "quantitative", "title": "Water intake (m L/24hour)", "scale": {"domain": [0, 25], "nice": false}, "axis": {"values": [0,5,10,15,20,25], "tickCount": 30, "labelFontWeight": "normal", "labelFontSize": 9, "titleFontSize": 9.5, "titleFontWeight": "normal"}},
              "color": {"field": "series", "type": "nominal", "scale": {"domain": ["Control","Ber","Ber+Gly-L","Ber+Gly-H","Gly-H","Metformin","Ber+GC","GQD(L)"], "range": ["#0000FF","#FF0000","#4E9A2A","#7030A0","#FFC000","#003399","#FF00FF","#000000"]},
                "legend": {"title": null, "orient": "none", "legendX": 282, "legendY": 38, "labelFontSize": 8.5, "symbolType": "square", "symbolSize": 30, "rowPadding": 9}}}},
            {"mark": {"type": "rule", "color": "#000000", "strokeWidth": 1}, "encoding": {"x": {"field": "week", "type": "nominal"}, "xOffset": {"field": "series", "type": "nominal"}, "y": {"field": "mean", "type": "quantitative"}, "y2": {"field": "upper"}}},
            {"mark": {"type": "tick", "color": "#000000", "size": 4, "thickness": 1}, "encoding": {"x": {"field": "week", "type": "nominal"}, "xOffset": {"field": "series", "type": "nominal"}, "y": {"field": "upper", "type": "quantitative"}}}
          ]
        },
        {
          "title": {"text": "Food intake", "offset": -19}, "width": 275, "height": 159, "view": {"stroke": null},
          "data": {"name": "food"},
          "layer": [
            {"mark": {"type": "bar"}, "encoding": {
              "x": {"field": "week", "type": "nominal", "title": "Time", "scale": {"paddingInner": 0.14, "paddingOuter": 0.07}, "axis": {"labelAngle": 0, "labelFontWeight": "normal", "labelFontSize": 9, "labelPadding": 8, "titleFontSize": 12, "titlePadding": 27, "ticks": true, "tickSize": 4}},
              "xOffset": {"field": "series", "type": "nominal", "scale": {"domain": ["Control","Ber","Ber+Gly-L","Ber+Gly-H","Gly-H","Metformin","Ber+GC","GQD(L)"]}},
              "y": {"field": "mean", "type": "quantitative", "title": "Food intake (g/24hour)", "scale": {"domain": [0, 12], "nice": false}, "axis": {"values": [0,2,4,6,8,10,12], "tickCount": 30, "format": "d", "labelFontWeight": "normal", "labelFontSize": 9, "titleFontSize": 9.5, "titleFontWeight": "normal"}},
              "color": {"field": "series", "type": "nominal", "scale": {"domain": ["Control","Ber","Ber+Gly-L","Ber+Gly-H","Gly-H","Metformin","Ber+GC","GQD(L)"], "range": ["#0000FF","#FF0000","#4E9A2A","#7030A0","#FFC000","#003399","#FF00FF","#000000"]},
                "legend": {"title": null, "orient": "none", "legendX": 282, "legendY": 40, "labelFontSize": 8.5, "symbolType": "square", "symbolSize": 30, "rowPadding": 9}}}},
            {"mark": {"type": "rule", "color": "#000000", "strokeWidth": 1}, "encoding": {"x": {"field": "week", "type": "nominal"}, "xOffset": {"field": "series", "type": "nominal"}, "y": {"field": "mean", "type": "quantitative"}, "y2": {"field": "upper"}}},
            {"mark": {"type": "tick", "color": "#000000", "size": 4, "thickness": 1}, "encoding": {"x": {"field": "week", "type": "nominal"}, "xOffset": {"field": "series", "type": "nominal"}, "y": {"field": "upper", "type": "quantitative"}}}
          ]
        },
        {
          "title": {"text": "Body weight", "offset": -19}, "width": 270, "height": 169, "view": {"stroke": null},
          "data": {"name": "body"},
          "layer": [
            {"mark": {"type": "line", "strokeWidth": 1.5, "point": {"shape": "diamond", "filled": true, "size": 30}}, "encoding": {
              "x": {"field": "week", "type": "quantitative", "title": "Week", "scale": {"domain": [-0.15, 4.2], "nice": false, "zero": false}, "axis": {"values": [0,1,2,3,4], "tickCount": 30, "format": "d", "labelAngle": 0, "labelFontSize": 9, "labelPadding": 6, "titleFontSize": 12, "titlePadding": 12}},
              "y": {"field": "mean", "type": "quantitative", "title": "Weight (g)", "scale": {"domain": [35, 61.1], "nice": false, "zero": false}, "axis": {"values": [35,40,45,50,55,60], "tickCount": 30, "labelFontWeight": "normal", "labelFontSize": 10, "titleFontSize": 9.5, "titleFontWeight": "normal"}},
              "color": {"field": "series", "type": "nominal", "scale": {"domain": ["Control","Ber","Ber+Gly-L","Ber+Gly-H","Gly-H","Metformin","Ber+GC","GQD"], "range": ["#0000FF","#FF0000","#99CC66","#CC66FF","#FFC000","#1F3864","#FF66CC","#000000"]},
                "legend": {"title": null, "orient": "none", "legendX": 280, "legendY": 40, "labelFontSize": 7, "symbolSize": 40, "rowPadding": 9}}}},
            {"mark": {"type": "rule", "strokeWidth": 1}, "encoding": {"x": {"field": "week", "type": "quantitative"}, "y": {"field": "lo", "type": "quantitative"}, "y2": {"field": "hi"}, "color": {"field": "series", "type": "nominal"}}}
          ]
        }
      ]
    }
  ],
  "config": {
    "font": "Liberation Sans",
    "view": {"stroke": "#7f7f7f", "strokeWidth": 1.3},
    "axis": {"labelFont": "Liberation Sans", "titleFont": "Liberation Sans", "labelFontWeight": "bold", "labelFontSize": 11, "labelColor": "#1a1a1a", "titleFontWeight": "bold", "titleFontSize": 11, "titleColor": "#1a1a1a", "domainColor": "#595959", "domainWidth": 1.3, "tickColor": "#595959", "grid": false, "labelOverlap": false},
    "axisX": {"labelAngle": -45, "ticks": false, "labelPadding": 3},
    "axisY": {"tickSize": 4, "labelPadding": 3, "titlePadding": 5},
    "title": {"font": "Liberation Sans", "fontSize": 16.5, "fontWeight": "bold", "color": "#000000"},
    "legend": {"labelFont": "Liberation Sans"}
  }
}
